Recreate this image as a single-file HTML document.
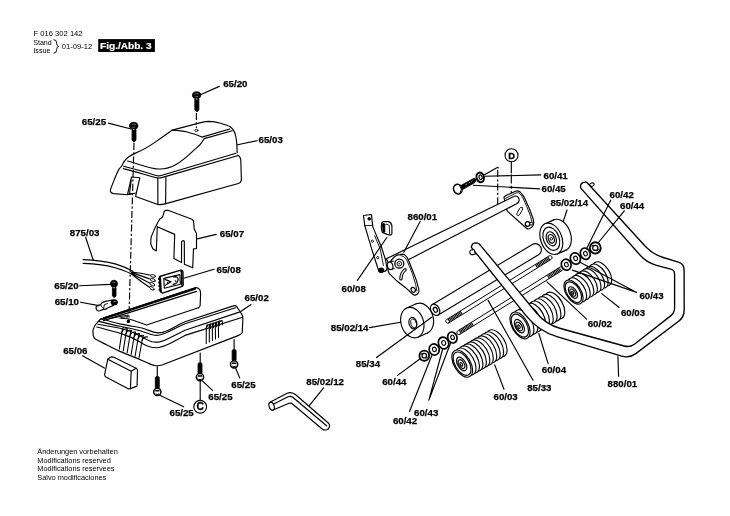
<!DOCTYPE html>
<html><head><meta charset="utf-8">
<style>
html,body{margin:0;padding:0;background:#fff;}
body{width:730px;height:516px;overflow:hidden;position:relative;font-family:"Liberation Sans",sans-serif;}
svg{position:absolute;left:0;top:0;will-change:transform;}
.l{fill:none;stroke:#000;stroke-width:1.15;stroke-linejoin:round;stroke-linecap:round;}
.w{fill:#fff;stroke:#000;stroke-width:1.15;stroke-linejoin:round;stroke-linecap:round;}
.k{fill:#000;stroke:#000;stroke-width:0.8;}
.d{fill:none;stroke:#000;stroke-width:1.15;stroke-dasharray:7 2.2 2.2 2.2;}
.t{font-family:"Liberation Sans",sans-serif;font-weight:bold;font-size:9px;fill:#000;stroke:#000;stroke-width:0.25px;}
.s{font-family:"Liberation Sans",sans-serif;font-size:7px;fill:#000;}
</style></head><body>
<svg width="730" height="516" viewBox="0 0 730 516">
<!-- header -->
<text class="s" x="33.6" y="35.8" style="font-size:7.6px">F 016 302 142</text>
<text class="s" x="33.2" y="45.2" style="font-size:7.1px">Stand</text>
<text class="s" x="33.4" y="52.7" style="font-size:7.1px">Issue</text>
<path class="l" d="M53.8,39.6 Q57,39.8 56.6,43 Q56.4,46 58.6,46.4 Q56.4,46.8 56.6,49.8 Q57,53 53.8,53.2" style="stroke-width:0.9"/>
<text class="s" x="61.8" y="48.9" style="font-size:7.6px">01-09-12</text>
<rect x="98.2" y="39.1" width="56.7" height="12.9" fill="#000"/>
<text class="t" x="100" y="48.7" style="fill:#fff;stroke:#fff;stroke-width:0.2px;font-size:9.4px" textLength="51.6" lengthAdjust="spacingAndGlyphs">Fig./Abb. 3</text>
<!-- footer -->
<text class="s" x="37.3" y="453.8" style="font-size:7.35px">Änderungen vorbehalten</text>
<text class="s" x="37.3" y="462.5" style="font-size:7.35px">Modifications reserved</text>
<text class="s" x="37.3" y="471.4" style="font-size:7.35px">Modifications reservees</text>
<text class="s" x="37.3" y="480.1" style="font-size:7.35px">Salvo modificaciones</text>
<!-- ===== cover 65/03 ===== -->
<g class="l">
<!-- top outline of raised part -->
<path d="M124.1,161.6 C126.5,158 130,155.5 135,153.4 C142,150.3 149,146.5 154.4,142.6 C158.5,139.8 162,137.5 165,135.2 C167.5,133.3 170,131.6 172.2,130.1 L200.8,122.6 C204,121.8 206.5,121.4 208.9,121.4 C213,121.5 217,122.2 220.5,123.2 C224,124.2 227.5,125.3 229.9,126.6 C231.5,127.6 232.6,128.8 233.4,130.1 C234.6,132 235.3,134 235.7,136 C236.3,139 236.6,141.5 236.8,144.1 L237.2,152.5"/>
<!-- flat top panel inner line -->
<path d="M172.2,130.1 C178,130.5 183,131 187,132 C192,133.2 197,134.8 201.9,137.1 L229.9,129"/>
<path d="M204.2,138.6 L232.2,130.8"/>
<!-- S-curve lower edge -->
<path d="M127.6,161 C140,164.5 150,168.5 158,169 C165,169.3 171,167.5 176,164.5 C182,161 187,156.5 191,152.8 C194.5,149.5 197.5,147 199.6,145.2 C201.5,143 203,140.7 204.2,138.8"/>
<!-- ledge lines -->
<path d="M123.5,166.3 C135,169 148,173 156,175.5 C158,176.2 160,176 162,175.3 L236,153.2"/>
<path d="M123.3,168.6 C135,171.5 148,175.5 156.5,177.7 C158.5,178.2 160.5,178 162.5,177.4 L237.5,155.8"/>
<!-- right side lower body -->
<path d="M237.5,155 C239.5,156 240.5,157 240.8,160 L241.4,179.4 C241.4,181.5 240,182.8 238.3,183.5 L166,203.6 C162,204.7 159,204.7 157.8,204.5 L135.7,196.5"/>
<!-- front vertical edges -->
<path d="M157.8,177.8 L157.9,204.5"/>
<path d="M165.9,177.5 L165.6,203.8"/>
<!-- left ear -->
<path d="M124.1,161.6 C123,164 121.5,167 119.4,168.6 C117,172 115,178 110.6,189 C109.8,191.4 111,193.3 113.6,193.6 L127.6,194.8 L132.8,193.6"/>
<!-- tab -->
<path d="M127.6,194.2 L131.5,177 L139.8,177.8 L136.3,193 Z"/>
<path d="M131.2,180.5 L129.5,193.5"/>
<path d="M136.3,193 L135.7,196.5"/>
</g>
<!-- screw 65/25 on cover + dashed -->
<path d="M132,129.5 L136,129.5 L136,140 L134,142.3 L132,140 Z" class="k"/>
<ellipse cx="133.7" cy="125.8" rx="4.2" ry="3.5" class="k"/>
<path d="M131.7,124.6 Q133.7,123.3 135.7,124.6 M132.3,127.2 L135.1,127.2" stroke="#999" stroke-width="0.7" fill="none"/>
<rect x="133.1" y="129.2" width="1.3" height="0.9" fill="#ddd"/>
<path class="d" d="M134,143 L128.8,322"/>
<ellipse cx="128.4" cy="321.3" rx="1.6" ry="1.9" fill="#000"/>
<!-- screw 65/20 top -->
<path d="M194.8,99 L198.9,99 L198.9,109.5 L197,112 L194.8,109.5 Z" class="k"/>
<ellipse cx="196.6" cy="95.2" rx="4.2" ry="3.4" class="k"/>
<path d="M194.6,94 Q196.6,92.7 198.6,94 M195.2,96.6 L198,96.6" stroke="#999" stroke-width="0.7" fill="none"/>
<rect x="196" y="98.6" width="1.3" height="0.9" fill="#ddd"/>
<path class="d" d="M196.4,113 L196.4,128"/>
<ellipse cx="196.4" cy="130.4" rx="1.6" ry="1.1" class="l" style="stroke-width:0.9"/>
<!-- labels -->
<g class="t" style="font-size:9.7px">
<text x="223.2" y="86.6">65/20</text>
<text x="81.8" y="125.4">65/25</text>
<text x="258.6" y="143.4">65/03</text>
</g>
<path class="l" d="M219.3,86.4 L200.4,94.7 M108.4,123.1 L131,129 M257.1,140.7 L237.6,144.8"/>
<!-- ===== 65/07 ===== -->
<g class="l">
<path d="M165.6,210.3 C164.8,210.8 164.3,211.2 164.1,211.8 L162.6,217.1 L159.6,219.3 C158,222 156.5,225 155.1,227.6 L151.3,236.6 C150.8,239 150.7,242 150.9,244.2 L152.8,248.7 L156.3,251 L157.3,226.8 L174.7,234.4 L173.9,258.5 L181.5,262.6 L181.6,241.6 Q182.9,240 184.3,241.2 L184.4,264.2 L192.7,267.8 L193.5,248.7 L196.5,248.7 L196.5,233.6 L194.2,229.1 L193.5,220.8 L192,219.3 L167.9,210.3 Z"/>
</g>
<text class="t" x="219.8" y="236.8" style="font-size:9.7px">65/07</text>
<path class="l" d="M216.1,234.4 L197.3,238.9"/>
<!-- ===== cable 875/03 ===== -->
<g class="l">
<path d="M83.2,259.6 C95,260 106,261.4 116,264.1 C122,265.9 127,267.9 132.8,271.3"/>
<path d="M83.2,263.4 C95,263.8 106,265 116,268 C122,269.8 127,271.5 132.8,274.6"/>
<path d="M132.8,271.6 L132.8,274.3"/>
<path d="M131.5,272 C138,272.5 144,273.5 150.5,275.2 M131.5,272.6 C138,274.5 144,277 150.5,279.2 M131.5,273.3 C137.5,276.5 143.5,280 150,283.2 M131.5,274 C137,278.5 143,283 149.5,287.2"/>
<g style="fill:#fff;stroke:#000;stroke-width:0.9">
<ellipse cx="153" cy="276" rx="2.6" ry="1.3" transform="rotate(12 153 276)"/>
<ellipse cx="152.8" cy="280.1" rx="2.6" ry="1.3" transform="rotate(20 152.8 280.1)"/>
<ellipse cx="152.3" cy="284.2" rx="2.6" ry="1.3" transform="rotate(28 152.3 284.2)"/>
<ellipse cx="151.8" cy="288.3" rx="2.6" ry="1.3" transform="rotate(34 151.8 288.3)"/>
</g>
</g>
<text class="t" x="69.8" y="235.7" style="font-size:9.7px">875/03</text>
<path class="l" d="M85.6,237.2 L93.3,260.3"/>
<!-- ===== 65/08 ===== -->
<path class="w" d="M159.6,276.5 L180.8,270.2 C182,269.9 182.8,270.6 182.9,271.8 L183.2,284.8 C183.2,285.6 182.8,286.1 182.1,286.4 L163.4,292.8 C162,293.2 160.8,292.6 160.6,291.4 L159.5,277.5 Z" style="stroke-width:1.4"/>
<path d="M159.9,276.8 L160.8,292.2" stroke="#000" stroke-width="2.2" fill="none"/>
<path d="M180.2,271 L181.5,270.8 L181.8,285.5" stroke="#000" stroke-width="1.6" fill="none"/>
<g fill="#000"><rect x="158" y="278" width="2" height="1.8"/><rect x="158.2" y="281.6" width="2" height="1.8"/><rect x="158.4" y="285.2" width="2" height="1.8"/><rect x="158.6" y="288.8" width="2" height="1.8"/></g>
<path class="l" d="M163.8,278.4 L179.8,274.6 L180.4,284.3 L164.3,288.2 Z" style="stroke-width:1.1"/>
<path class="l" d="M165,279.4 L171,281.8 L165.3,285.2 M173.6,276.9 C176.8,276.3 178.3,277.6 178,280 C177.7,282.4 175.8,283.8 173.2,284.5" style="stroke-width:1.3"/>
<circle cx="167.6" cy="282.9" r="0.8" fill="#000"/><circle cx="175.6" cy="281" r="0.8" fill="#000"/><circle cx="171" cy="286" r="0.6" fill="#000"/>
<text class="t" x="216.6" y="272.9" style="font-size:9.7px">65/08</text>
<path class="l" d="M214,269.2 L183.8,278.2"/>
<!-- ===== 65/20 lower screw, 65/10 clip ===== -->
<path d="M112.4,287.6 L116,287.6 L116,296 L114.2,297.6 L112.4,296 Z" class="k"/>
<circle cx="114" cy="283.7" r="3.5" class="k"/>
<path d="M112.3,282.7 Q114,281.6 115.7,282.7" stroke="#999" stroke-width="0.7" fill="none"/>
<rect x="113.4" y="287.3" width="1.3" height="0.9" fill="#ddd"/>
<text class="t" x="54.3" y="288.6" style="font-size:9.7px">65/20</text>
<path class="l" d="M79.7,285.8 L110.8,284.4"/>
<path class="w" d="M112,300 L104.5,301.6 C102.5,302 101.2,303.2 100.6,304.6 L97.6,305.6 C96.2,306.2 95.8,307.8 96.3,309.2 C96.9,310.6 98.4,311.2 99.8,310.8 L103.4,309.4 C105,309.6 106.4,309 107.5,308 L113.5,305.4 Z"/>
<path class="l" d="M100.6,304.6 L102.4,307.6 M103.4,309.4 L104.4,304.6 L107.4,303.6" style="stroke-width:0.9"/>
<ellipse cx="114.2" cy="302.3" rx="3.3" ry="2.8" class="k"/>
<ellipse cx="114.6" cy="301.6" rx="1.3" ry="0.7" fill="#888"/>
<text class="t" x="54.7" y="304.6" style="font-size:9.7px">65/10</text>
<path class="l" d="M80.4,302.2 L98.9,305.6"/>
<!-- ===== base 65/02 ===== -->
<g class="l">
<!-- back wall top (thick) -->
<path d="M101,318.8 L195.1,287.8 C197,287.3 199.6,288.5 200.3,291 L200.6,294 L200.1,305.8 C200,306.8 199.3,307.5 198.4,307.8" />
<path d="M104,318.4 L195,288.6" style="stroke-width:2.2"/>
<path d="M103.5,320.6 L196.5,291.4"/>
<!-- wall bottom edge / floor -->
<path d="M198.4,307.8 L146.5,325 C142,323.5 138,321.8 134,320.5 C130,319 126,318.2 121,318.2"/>
<path d="M109.5,318.6 L128.3,315 L126.5,318.5 M119.8,318.1 L126.5,316.5" style="stroke-width:0.9"/>
<!-- rim lines -->
<path d="M101,319.3 C108,320.5 114,322.5 120,323.9 C128,325.5 136,326.8 142,328 C147,329.5 151,331.5 154.5,332.4 C157,333 159.5,333 162.5,332.4 C167,331.2 172,328.5 176,326.2 C179,324.5 182,323 185,321.8 L232.6,306.1 C234.5,305.4 236,305.6 236.8,306.6 L239.9,311.5 L241.6,314"/>
<path d="M99.2,321.4 C106,323 113,325 120,326.3 C128,327.8 135,329.5 141,331 C146,332.6 150,334.3 153.5,335 C155.5,335.4 157.5,335.4 159.5,335 C164,334 169,331.6 174,329 C178,327 181.5,325.3 185,323.8 L235.5,307.8"/>
<path d="M98,324.2 C105,325.6 113,327 120,328.2 C128,330 134,332.5 140,335.8 C144.5,338.5 148.5,340.8 152,341.8 C154.5,342.3 157,342.3 159.5,341.9 C163,341.2 166.5,339.8 170,337.8 L185,330.2 L238.5,312.4"/>
<path d="M96.8,327 C104.5,329 112.5,331.3 120.5,333.4 C127,335.5 134,338.5 140,342 C144,344.5 148,346.5 151.5,347.3 C154,347.8 156.5,347.9 159,347.5 C163,346.8 166.5,345.3 170,343.6 L185,335.4 L242.6,317.2"/>
<!-- outer left + bottom + right -->
<path d="M101,318.8 C99.5,320 98,321.5 97,322.8 C95.5,324.5 94.5,326 94,327.4 C93.2,329 92.9,330.3 92.9,331 L93.3,335.4 C93.6,337 94.2,338.3 95.2,339.1 C99,341.2 103,343 106.5,344.7 C110.5,346.8 114.5,349 118.8,350.9 C125,353.6 131,356 137.3,358.4 C141.5,360.2 145.5,362.2 149.7,363.9 C151.8,364.8 153.8,365.5 155.8,365.7 C158,365.9 160,365.6 162,365 L238,335.6 C240,334.8 241.6,334 242.2,332.8 L242.9,318.5 C242.9,316.5 242.3,315 241.6,314"/>
</g>
<!-- vents left -->
<g class="l" style="stroke-width:1.05">
<path d="M119.30,349.10 L121.90,332.20 Q122.20,329.70 123.30,327.20"/>
<path d="M121.90,332.20 Q123.50,328.00 127.34,328.84"/>
<path d="M123.24,350.88 L125.94,333.84 Q126.24,331.34 127.34,328.84"/>
<path d="M125.94,333.84 Q127.54,329.64 131.38,330.48"/>
<path d="M127.18,352.66 L129.98,335.48 Q130.28,332.98 131.38,330.48"/>
<path d="M129.98,335.48 Q131.58,331.28 135.42,332.12"/>
<path d="M131.12,354.44 L134.02,337.12 Q134.32,334.62 135.42,332.12"/>
<path d="M134.02,337.12 Q135.62,332.92 139.46,333.76"/>
<path d="M135.06,356.22 L138.06,338.76 Q138.36,336.26 139.46,333.76"/>
<path d="M138.06,338.76 Q139.66,334.56 143.50,335.40"/>
<path d="M139.00,358.00 L142.10,340.40 Q142.40,337.90 143.50,335.40"/>
<path d="M142.10,340.40 Q143.70,336.20 147.54,337.04"/>
</g>
<!-- vents right -->
<g class="l" style="stroke-width:1.05">
<path d="M206.20,343.40 L206.30,327.80 Q206.50,325.80 207.20,324.60"/>
<path d="M206.30,327.80 Q207.50,324.20 210.20,324.45 L210.50,328.65"/>
<path d="M209.30,341.95 L209.30,326.85 Q209.50,324.85 210.20,323.65"/>
<path d="M209.30,326.85 Q210.50,323.25 213.20,323.50 L213.50,327.70"/>
<path d="M212.40,340.50 L212.30,325.90 Q212.50,323.90 213.20,322.70"/>
<path d="M212.30,325.90 Q213.50,322.30 216.20,322.55 L216.50,326.75"/>
<path d="M215.50,339.05 L215.30,324.95 Q215.50,322.95 216.20,321.75"/>
<path d="M215.30,324.95 Q216.50,321.35 219.20,321.60 L219.50,325.80"/>
<path d="M218.60,337.60 L218.30,324.00 Q218.50,322.00 219.20,320.80"/>
<path d="M218.30,324.00 Q219.50,320.40 222.20,320.65 L222.50,324.85"/>
</g>
<text class="t" x="244.6" y="301.4" style="font-size:9.7px">65/02</text>
<path class="l" d="M251,304.5 L239.6,312.2"/>
<!-- ===== 65/06 block ===== -->
<g class="l">
<path d="M107.8,359.2 L104.6,374.6 C104.5,375.8 105,376.6 105.9,377.1 L127.7,388.6 C128.6,389 129.6,389 130.4,388.6 L136.3,386.4 C136.8,386.2 137.1,385.7 137.1,385.1 L137.5,370.6 C137.5,369.6 137,368.8 136.2,368.3 L113.4,357.1 C112.4,356.7 111.2,356.7 110.2,357.3 L107.8,359.2 Z"/>
<path d="M107.8,359.2 L131.2,371.3 L136.2,368.3"/>
<path d="M131.2,371.3 L130.4,388.6"/>
</g>
<text class="t" x="63.2" y="353.9" style="font-size:9.7px">65/06</text>
<path class="l" d="M82.5,355.8 L104.4,368.1"/>
<!-- ===== bottom screws ===== -->
<path class="l" d="M157.3,366.5 L157.3,378 M200.2,353 L200.2,364 M234.1,339.5 L234.1,350.5"/>
<rect x="155.3" y="376.5" width="4" height="12" rx="1.5" class="k"/>
<rect x="198" y="362.8" width="4" height="11.5" rx="1.5" class="k"/>
<rect x="232.1" y="349.5" width="4" height="11.5" rx="1.5" class="k"/>
<g style="fill:#fff;stroke:#000;stroke-width:1.5">
<circle cx="157.3" cy="391.9" r="3.6"/>
<circle cx="200" cy="377.1" r="3.6"/>
<circle cx="234.1" cy="364.3" r="3.6"/>
</g>
<g fill="#000">
<path d="M155.2,390 h4.2 v1.5 h-4.2z M155.5,393.2 q1.8,1.4 3.6,0 v1 q-1.8,1.2 -3.6,0z"/>
<path d="M197.9,375.2 h4.2 v1.5 h-4.2z M198.2,378.4 q1.8,1.4 3.6,0 v1 q-1.8,1.2 -3.6,0z"/>
<path d="M232,362.4 h4.2 v1.5 h-4.2z M232.3,365.6 q1.8,1.4 3.6,0 v1 q-1.8,1.2 -3.6,0z"/>
</g>
<path class="l" d="M200.2,381 L200.2,400.2"/>
<circle cx="200.2" cy="406.8" r="6.4" class="l"/>
<text x="200.1" y="410.4" text-anchor="middle" style="font-family:'Liberation Sans',sans-serif;font-size:10.2px;font-weight:bold;stroke:#000;stroke-width:0.35px" fill="#000">C</text>
<g class="t" style="font-size:9.7px">
<text x="169.5" y="416">65/25</text>
<text x="208.3" y="400.4">65/25</text>
<text x="231.3" y="388">65/25</text>
</g>
<path class="l" d="M159.8,395.2 L183.7,406.8 M202.6,381.2 L212.5,390.3 M235.6,368 L239.7,377.9"/>
<!-- ===== allen key 85/02/12 ===== -->
<g class="l">
<path class="w" d="M270.5,402 L287.1,393.3 C289,392.5 291,392.4 292.5,393 C294,393.6 295,394.3 295.7,394.8 L328.6,423.2 C330.5,425.5 329.5,428.8 326.8,429.8 C325,430.3 323.5,429.9 322.5,429.2 L292.8,404.2 C291.8,403.2 290.5,402.8 289,403.3 L272.5,410.2 Z"/>
<path d="M272.8,404.6 L288,396.8 C290,396 291.5,396.3 292.8,397.3 L326.8,426"/>
<ellipse cx="271.6" cy="406.2" rx="2.5" ry="4.1" transform="rotate(-20 271.6 406.2)" class="w"/>
</g>
<text class="t" x="306.3" y="385.3" style="font-size:9.7px">85/02/12</text>
<path class="l" d="M323.6,387.9 L309.3,405.7"/>
<path class="w" d="M503.9,197.1 C505,196 506,195.5 507,195 L515.6,191.2 C517,190.7 519.5,191 520.9,192.8 C522.3,194.5 523.3,195.8 524.1,197.1 L529.4,208.8 L532.6,217.3 C533.4,219.5 533.8,221 533.7,222.6 C533.6,224.2 533.4,225 533.2,225.3 C532.5,226.7 531.5,227.5 530.5,228 C529.7,228.6 529,229 528.4,229 C527.5,229 526.8,228.6 526.2,228 L507.1,210.9 Z"/>
<path class="l" d="M505.5,198.4 L516.1,192.9 C517.5,192.5 519.5,192.8 520.6,194.5 L522.5,197 L526.8,206.6 L530.5,216.2 L532.1,222.6" style="stroke-width:0.9"/>
<path class="l" d="M522.2,207.6 C523,208.5 522.5,210 521.5,211.5 L519.5,214.8 C518.8,215.8 517.5,216 517,215 C516.6,214.2 517,213 517.6,212 L519.7,208.3 C520.3,207.4 521.4,207 522.2,207.6 Z" style="stroke-width:1"/>
<circle cx="527.6" cy="224" r="2.3" fill="#fff" stroke="#000" stroke-width="1.3"/><circle cx="531.3" cy="223.6" r="1.4" fill="#fff" stroke="#000" stroke-width="1"/>
<path class="w" d="M386.3,258.8 L514.2,196.3 C516.3,195.4 518.4,196.6 519,198.8 C519.5,200.8 518.6,202.8 516.6,203.8 L391.5,268.5 Z"/>
<path class="w" d="M392,259.5 C394,256.5 396.8,254.8 399.7,254.6 C401,254.3 402,254.1 402.9,254.1 C404,254.3 405,254.9 405.6,255.7 C407,257.2 408,259 408.8,261 L413.1,271.7 L416.3,280.2 L418.4,287.7 C418.8,289 419,290 418.9,290.9 C418.8,292 418.4,292.9 417.9,293.5 C417.1,294.4 416.2,294.9 415.2,295.1 C414.2,295.2 413.3,294.7 412.5,294 L405.6,287.7 L396,280.2 L389.1,273.3 C388,271.5 387.8,269 388.2,266.5 C388.8,263.8 390,261.5 392,259.5 Z"/>
<path class="l" d="M400.8,255.7 C402.5,256 403.8,256.5 404.5,257.3 C406,259 407,260.5 407.7,262.1 L412,272.7 L415.7,284.5 L416.8,290.9" style="stroke-width:0.9"/>
<circle cx="399.3" cy="263.7" r="4.5" fill="#fff" stroke="#000" stroke-width="1.3"/><circle cx="399.3" cy="263.7" r="2.3" fill="none" stroke="#000" stroke-width="1"/><circle cx="399.3" cy="263.7" r="0.7" fill="#000"/>
<path d="M405.1,269.8 C402.6,271.8 401.1,275 400.9,278.8" fill="none" stroke="#000" stroke-width="3.3" stroke-linecap="round"/><path d="M405.1,269.8 C402.6,271.8 401.1,275 400.9,278.8" fill="none" stroke="#fff" stroke-width="1.2" stroke-linecap="round"/>
<ellipse cx="413.2" cy="289.8" rx="2" ry="2.5" transform="rotate(-30 413.2 289.8)" fill="#fff" stroke="#000" stroke-width="1.2"/>
<path d="M390.2,262.1 L393.6,261 L394.4,268.6 L390.6,269.5 Z" fill="#fff" stroke="none"/>
<path class="l" d="M390.2,262.1 L393.6,261 M390.6,269.5 L394.4,268.6" style="stroke-width:1"/>
<ellipse cx="390.1" cy="265.8" rx="2.7" ry="3.8" transform="rotate(-15 390.1 265.8)" class="w"/>
<path class="w" d="M363.4,215.5 L370.9,214.5 C371.4,214.6 371.6,215 371.6,215.5 L372.2,222.2 L372.9,227 L376.3,235.1 L381.5,247.3 L385.4,259.5 L387,267.7 C387.1,269.5 386,271 384.5,271.5 L380.5,272 C379.5,272 379,271.6 379,271 L377.7,267.7 L371.6,248.7 L364.8,225.6 L364.1,220.2 Z"/>
<path class="l" d="M364.8,225.6 L372.6,225.4 M374.6,235.6 L380.2,248.8 L383.4,265.5" style="stroke-width:0.9"/>
<circle cx="369.3" cy="218.8" r="1.4" class="k"/><circle cx="372.4" cy="241.2" r="1.1" fill="#fff" stroke="#000" stroke-width="0.9"/><circle cx="377.7" cy="257.6" r="1.1" fill="#fff" stroke="#000" stroke-width="0.9"/>
<ellipse cx="381.2" cy="270.3" rx="2.8" ry="2.4" class="k"/>
<path class="w" d="M381.3,227 L381.7,222.9 C382.2,221.9 383,221.6 383.8,221.6 L388.5,221.6 C390.2,222 391.5,223.5 391.9,225.6 L391.9,233.8 C391.6,234.6 390.8,235.1 389.9,235.1 L387.2,234.4 L382.4,232.4 C381.6,231 381.3,229 381.3,227 Z"/>
<path d="M382,223.5 C383.2,222.6 384.6,222.8 385.2,224.2 L385.3,231.8 C384.6,233 383.2,232.8 382.4,231.6 Z" fill="#000"/>
<path class="l" d="M385.8,224.3 C387.5,224 388.8,224.6 389.2,225.8 L389.6,233.5" style="stroke-width:0.9"/>
<circle cx="511.5" cy="155.2" r="6.5" class="l" style="stroke-width:1.1"/>
<text x="511.7" y="158.6" text-anchor="middle" style="font-family:'Liberation Sans',sans-serif;font-size:9.3px;font-weight:bold;stroke:#000;stroke-width:0.3px" fill="#000">D</text>
<path class="l" d="M511.3,161.5 L511.3,173"/>
<path class="d" d="M511.3,174.5 L511.3,193.5" style="stroke-dasharray:9 2.2 3 2.2"/>
<path class="l" d="M484.5,174.7 L497.3,167.4 L498.4,167.8"/>
<path class="d" d="M497.7,170 L497.7,204"/>
<path class="l" d="M484.9,176.3 L540.7,174.9 M473.3,185.2 L539.7,188.9"/>
<path d="M461.3,185.2 L473.5,178.5 C475.3,177.8 476.3,179.5 475.6,181.4 L475,182.4 L462.5,189.6 Z" fill="#000" stroke="#000" stroke-width="0.8"/>
<path d="M465.5,184.8 L467.2,183.8 M468.5,183.2 L470,182.3 M471.2,181.6 L472.6,180.8" stroke="#bbb" stroke-width="0.8"/>
<ellipse cx="457.9" cy="189.1" rx="4.3" ry="4.9" transform="rotate(-20 457.9 189.1)" fill="#fff" stroke="#000" stroke-width="1.5"/>
<path class="l" d="M459.6,185 L461.4,189.2 L460,193" style="stroke-width:1"/>
<ellipse cx="480.2" cy="177.4" rx="3.7" ry="4.9" transform="rotate(-15 480.2 177.4)" fill="#fff" stroke="#000" stroke-width="2"/>
<ellipse cx="480.6" cy="177.4" rx="1.5" ry="2.4" transform="rotate(-15 480.2 177.4)" fill="none" stroke="#000" stroke-width="1.2"/>
<path class="w" d="M448.75,322.90 L551.25,259.30 A2.0,2.0 0 0 0 549.15,255.90 L446.65,319.50 A2.0,2.0 0 0 0 448.75,322.90 Z" style="stroke-width:1"/>
<path d="M448.55,320.67 L462.15,312.24" stroke="#000" stroke-width="3.6" stroke-dasharray="1.1 0.5"/>
<path d="M536.07,266.37 L549.24,258.19" stroke="#000" stroke-width="3.6" stroke-dasharray="1.1 0.5"/>
<path class="w" d="M459.86,334.30 L562.46,270.30 A2.0,2.0 0 0 0 560.34,266.90 L457.74,330.90 A2.0,2.0 0 0 0 459.86,334.30 Z" style="stroke-width:1"/>
<path d="M459.65,332.07 L472.80,323.87" stroke="#000" stroke-width="3.6" stroke-dasharray="1.1 0.5"/>
<path d="M547.89,277.03 L560.62,269.09" stroke="#000" stroke-width="3.6" stroke-dasharray="1.1 0.5"/>
<path class="w" d="M432.01,304.65 L532.35,244.48 A6.0,6.0 0 0 1 538.52,254.77 L438.19,314.95 Z"/>
<ellipse cx="435.10" cy="309.80" rx="4.20" ry="6.00" transform="rotate(-31.0 435.10 309.80)" class="w" />
<ellipse cx="435.40" cy="309.80" rx="1.90" ry="2.60" transform="rotate(-31.0 435.40 309.80)" class="l" style="stroke-width:1.3"/>
<ellipse cx="421.90" cy="318.40" rx="11.20" ry="15.60" transform="rotate(-18.0 421.90 318.40)" class="w" />
<path d="M406.74,308.04 L416.34,303.84 L427.46,332.96 L417.86,337.16 Z" fill="#fff" stroke="none"/>
<path class="l" d="M406.74,308.04 L416.34,303.84 M417.86,337.16 L427.46,332.96"/>
<ellipse cx="412.30" cy="322.60" rx="11.20" ry="15.60" transform="rotate(-18.0 412.30 322.60)" class="w" />
<ellipse cx="412.9" cy="323.1" rx="3.9" ry="5.8" transform="rotate(-15 412.9 323.1)" class="l"/>
<ellipse cx="413.5" cy="323.6" rx="2.8" ry="4.6" transform="rotate(-15 412.9 323.1)" class="l" style="stroke-width:0.8"/>
<ellipse cx="559.90" cy="235.00" rx="10.60" ry="16.30" transform="rotate(-20.7 559.90 235.00)" class="w" />
<path d="M545.19,223.70 L553.79,219.90 L566.01,250.10 L557.41,253.90 Z" fill="#fff" stroke="none"/>
<path class="l" d="M545.19,223.70 L553.79,219.90 M557.41,253.90 L566.01,250.10"/>
<ellipse cx="551.30" cy="238.80" rx="10.60" ry="16.30" transform="rotate(-20.7 551.30 238.80)" class="w" />
<ellipse cx="551.30" cy="238.80" rx="7.84" ry="12.06" transform="rotate(-20.7 551.30 238.80)" class="l" />
<ellipse cx="551.30" cy="238.80" rx="4.77" ry="7.34" transform="rotate(-20.7 551.30 238.80)" class="l" />
<ellipse cx="551.30" cy="238.80" rx="2.86" ry="4.40" transform="rotate(-20.7 551.30 238.80)" class="l" />
<circle cx="551.3" cy="238.8" r="1.3" fill="#fff" stroke="#000" stroke-width="1"/>
<ellipse cx="496.71" cy="343.37" rx="8.20" ry="15.00" transform="rotate(-30.4 496.71 343.37)" class="w" /><ellipse cx="493.26" cy="345.39" rx="8.20" ry="15.00" transform="rotate(-30.4 493.26 345.39)" class="w" /><ellipse cx="489.80" cy="347.41" rx="8.20" ry="15.00" transform="rotate(-30.4 489.80 347.41)" class="w" /><ellipse cx="486.35" cy="349.44" rx="8.20" ry="15.00" transform="rotate(-30.4 486.35 349.44)" class="w" /><ellipse cx="482.90" cy="351.46" rx="8.20" ry="15.00" transform="rotate(-30.4 482.90 351.46)" class="w" /><ellipse cx="479.45" cy="353.48" rx="8.20" ry="15.00" transform="rotate(-30.4 479.45 353.48)" class="w" /><ellipse cx="476.00" cy="355.51" rx="8.20" ry="15.00" transform="rotate(-30.4 476.00 355.51)" class="w" /><ellipse cx="472.55" cy="357.53" rx="8.20" ry="15.00" transform="rotate(-30.4 472.55 357.53)" class="w" /><ellipse cx="469.10" cy="359.55" rx="8.20" ry="15.00" transform="rotate(-30.4 469.10 359.55)" class="w" /><ellipse cx="465.65" cy="361.58" rx="8.20" ry="15.00" transform="rotate(-30.4 465.65 361.58)" class="w" /><ellipse cx="462.20" cy="363.60" rx="8.20" ry="15.00" transform="rotate(-30.4 462.20 363.60)" class="w" />
<ellipse cx="462.06" cy="363.71" rx="7.05" ry="12.90" transform="rotate(-30.4 462.06 363.71)" class="l" />
<ellipse cx="461.70" cy="364.00" rx="4.10" ry="7.50" transform="rotate(-30.4 461.70 364.00)" class="l" />
<ellipse cx="461.52" cy="364.14" rx="2.62" ry="4.80" transform="rotate(-30.4 461.52 364.14)" class="l" />
<ellipse cx="461.33" cy="364.30" rx="1.07" ry="1.95" transform="rotate(-30.4 461.33 364.30)" class="l" />
<ellipse cx="554.76" cy="305.60" rx="8.00" ry="14.70" transform="rotate(-29.7 554.76 305.60)" class="w" /><ellipse cx="550.89" cy="307.80" rx="8.00" ry="14.70" transform="rotate(-29.7 550.89 307.80)" class="w" /><ellipse cx="547.03" cy="310.00" rx="8.00" ry="14.70" transform="rotate(-29.7 547.03 310.00)" class="w" /><ellipse cx="543.17" cy="312.20" rx="8.00" ry="14.70" transform="rotate(-29.7 543.17 312.20)" class="w" /><ellipse cx="539.31" cy="314.40" rx="8.00" ry="14.70" transform="rotate(-29.7 539.31 314.40)" class="w" /><ellipse cx="535.45" cy="316.60" rx="8.00" ry="14.70" transform="rotate(-29.7 535.45 316.60)" class="w" /><ellipse cx="531.59" cy="318.80" rx="8.00" ry="14.70" transform="rotate(-29.7 531.59 318.80)" class="w" /><ellipse cx="527.72" cy="321.00" rx="8.00" ry="14.70" transform="rotate(-29.7 527.72 321.00)" class="w" /><ellipse cx="523.86" cy="323.20" rx="8.00" ry="14.70" transform="rotate(-29.7 523.86 323.20)" class="w" /><ellipse cx="520.00" cy="325.40" rx="8.00" ry="14.70" transform="rotate(-29.7 520.00 325.40)" class="w" />
<ellipse cx="519.83" cy="325.61" rx="6.88" ry="12.64" transform="rotate(-29.7 519.83 325.61)" class="l" />
<ellipse cx="519.40" cy="326.15" rx="4.00" ry="7.35" transform="rotate(-29.7 519.40 326.15)" class="l" />
<ellipse cx="519.18" cy="326.42" rx="2.56" ry="4.70" transform="rotate(-29.7 519.18 326.42)" class="l" />
<ellipse cx="518.96" cy="326.70" rx="1.04" ry="1.91" transform="rotate(-29.7 518.96 326.70)" class="l" />
<ellipse cx="602.16" cy="273.81" rx="7.40" ry="13.50" transform="rotate(-32.5 602.16 273.81)" class="w" /><ellipse cx="598.58" cy="276.10" rx="7.40" ry="13.50" transform="rotate(-32.5 598.58 276.10)" class="w" /><ellipse cx="595.00" cy="278.38" rx="7.40" ry="13.50" transform="rotate(-32.5 595.00 278.38)" class="w" /><ellipse cx="591.41" cy="280.67" rx="7.40" ry="13.50" transform="rotate(-32.5 591.41 280.67)" class="w" /><ellipse cx="587.83" cy="282.95" rx="7.40" ry="13.50" transform="rotate(-32.5 587.83 282.95)" class="w" /><ellipse cx="584.25" cy="285.24" rx="7.40" ry="13.50" transform="rotate(-32.5 584.25 285.24)" class="w" /><ellipse cx="580.67" cy="287.53" rx="7.40" ry="13.50" transform="rotate(-32.5 580.67 287.53)" class="w" /><ellipse cx="577.08" cy="289.81" rx="7.40" ry="13.50" transform="rotate(-32.5 577.08 289.81)" class="w" /><ellipse cx="573.50" cy="292.10" rx="7.40" ry="13.50" transform="rotate(-32.5 573.50 292.10)" class="w" />
<ellipse cx="573.36" cy="292.21" rx="6.36" ry="11.61" transform="rotate(-32.5 573.36 292.21)" class="l" />
<ellipse cx="572.98" cy="292.52" rx="3.55" ry="6.48" transform="rotate(-32.5 572.98 292.52)" class="l" />
<ellipse cx="572.80" cy="292.66" rx="2.22" ry="4.05" transform="rotate(-32.5 572.80 292.66)" class="l" />
<ellipse cx="572.62" cy="292.80" rx="0.89" ry="1.62" transform="rotate(-32.5 572.62 292.80)" class="l" />
<ellipse cx="424.30" cy="355.70" rx="4.84" ry="5.10" fill="#fff" stroke="#000" stroke-width="1.9"/>
<circle cx="424.30" cy="355.70" r="2.29" fill="none" stroke="#000" stroke-width="1.2"/>
<path d="M420.73,354.17 L423.28,353.15 M425.83,358.76 L427.87,356.72" stroke="#000" stroke-width="1"/>
<ellipse cx="434.20" cy="349.50" rx="5.00" ry="5.60" transform="rotate(-20 434.20 349.50)" fill="#fff" stroke="#000" stroke-width="1.7"/>
<ellipse cx="434.40" cy="349.50" rx="1.90" ry="2.24" transform="rotate(-20 434.20 349.50)" fill="#fff" stroke="#000" stroke-width="1.1"/>
<ellipse cx="443.50" cy="343.00" rx="5.10" ry="6.00" transform="rotate(-20 443.50 343.00)" fill="#fff" stroke="#000" stroke-width="1.7"/>
<ellipse cx="443.70" cy="343.00" rx="1.94" ry="2.40" transform="rotate(-20 443.50 343.00)" fill="#fff" stroke="#000" stroke-width="1.1"/>
<ellipse cx="452.40" cy="337.50" rx="4.60" ry="5.60" transform="rotate(-20 452.40 337.50)" fill="#fff" stroke="#000" stroke-width="1.7"/>
<ellipse cx="452.60" cy="337.50" rx="1.75" ry="2.24" transform="rotate(-20 452.40 337.50)" fill="#fff" stroke="#000" stroke-width="1.1"/>
<ellipse cx="566.20" cy="264.70" rx="4.80" ry="5.60" transform="rotate(-20 566.20 264.70)" fill="#fff" stroke="#000" stroke-width="1.7"/>
<ellipse cx="566.40" cy="264.70" rx="1.82" ry="2.24" transform="rotate(-20 566.20 264.70)" fill="#fff" stroke="#000" stroke-width="1.1"/>
<ellipse cx="575.40" cy="258.50" rx="4.90" ry="5.80" transform="rotate(-20 575.40 258.50)" fill="#fff" stroke="#000" stroke-width="1.7"/>
<ellipse cx="575.60" cy="258.50" rx="1.86" ry="2.32" transform="rotate(-20 575.40 258.50)" fill="#fff" stroke="#000" stroke-width="1.1"/>
<ellipse cx="585.30" cy="253.70" rx="4.80" ry="5.80" transform="rotate(-20 585.30 253.70)" fill="#fff" stroke="#000" stroke-width="1.7"/>
<ellipse cx="585.50" cy="253.70" rx="1.82" ry="2.32" transform="rotate(-20 585.30 253.70)" fill="#fff" stroke="#000" stroke-width="1.1"/>
<ellipse cx="595.30" cy="247.90" rx="5.42" ry="5.70" fill="#fff" stroke="#000" stroke-width="1.9"/>
<circle cx="595.30" cy="247.90" r="2.56" fill="none" stroke="#000" stroke-width="1.2"/>
<path d="M591.31,246.19 L594.16,245.05 M597.01,251.32 L599.29,249.04" stroke="#000" stroke-width="1"/>
<path d="M471.40,247.30 L526.01,315.58 Q538.50,331.20 557.66,336.93 L621.74,356.11 Q629.40,358.40 635.79,353.59 L678.61,321.31 Q684.20,317.10 684.19,310.10 L684.11,269.80 Q684.10,263.80 678.36,262.06 L663.23,257.49 Q652.70,254.30 645.27,246.19 L588.60,184.30 C587.5,182.5 586.5,181.8 585.1,182 C583,182.2 581,183.5 580.6,185.5 C580.4,186.5 580.6,187.5 581,188.4 L640.18,255.31 Q646.80,262.80 656.47,265.34 L670.73,269.08 Q674.60,270.10 674.60,274.10 L674.60,307.80 Q674.60,312.80 670.66,315.88 L634.73,343.91 Q630.00,347.60 624.22,346.01 L560.56,328.48 Q546.10,324.50 536.53,312.95 L480.70,245.60 C479.5,243.6 478,242.9 476,242.9 C474,243 472.3,244 471.8,245.5 C471.5,246.2 471.4,246.8 471.4,247.3 Z" fill="#fff" stroke="none"/>
<path class="l" style="stroke-width:1.35" d="M471.40,247.30 L526.01,315.58 Q538.50,331.20 557.66,336.93 L621.74,356.11 Q629.40,358.40 635.79,353.59 L678.61,321.31 Q684.20,317.10 684.19,310.10 L684.11,269.80 Q684.10,263.80 678.36,262.06 L663.23,257.49 Q652.70,254.30 645.27,246.19 L588.60,184.30 C587.5,182.5 586.5,181.8 585.1,182 C583,182.2 581,183.5 580.6,185.5 C580.4,186.5 580.6,187.5 581,188.4 L640.18,255.31 Q646.80,262.80 656.47,265.34 L670.73,269.08 Q674.60,270.10 674.60,274.10 L674.60,307.80 Q674.60,312.80 670.66,315.88 L634.73,343.91 Q630.00,347.60 624.22,346.01 L560.56,328.48 Q546.10,324.50 536.53,312.95 L480.70,245.60 C479.5,243.6 478,242.9 476,242.9 C474,243 472.3,244 471.8,245.5 C471.5,246.2 471.4,246.8 471.4,247.3"/>
<path class="w" d="M472.5,249.8 C470.5,249.6 469.6,251 469.8,252.5 C470,254 471.3,254.9 472.8,254.6 L475.5,254 L474,249.6 Z" style="stroke-width:1.1"/>
<path class="w" d="M589.5,184.6 C590.5,182.8 592.5,182.5 593.8,183.4 C594.6,184.3 594,185.5 592.8,186 L590.8,186.6 Z" style="stroke-width:1.1"/>
<path class="l" d="M420.10,221.60 L403.80,252.30 M357.40,280.40 L386.80,237.50 M369.60,327.60 L400.50,322.20 M376.50,357.50 L432.00,317.00 M397.60,375.40 L420.50,358.50 M409.50,411.50 L431.80,355.50 M428.90,400.10 L442.50,349.50 M428.90,400.10 L450.50,343.20 M538.80,333.50 L548.10,363.70 M488.10,300.40 L510.50,340.00 M510.50,340.00 L533.00,380.20 M494.70,364.90 L504.00,389.30 M617.90,356.50 L618.60,376.20 M547.00,281.90 L586.60,319.20 M601.70,293.60 L619.20,307.50 M572.30,270.10 L636.60,292.40 M580.50,262.60 L636.60,292.40 M610.70,200.20 L586.70,248.50 M624.30,210.90 L598.40,242.50 M567.00,210.00 L563.30,221.20"/>
<g class="t" style="font-size:9.7px"><text x="407.5" y="219.8">860/01</text><text x="341.6" y="291.6">60/08</text><text x="543.5" y="178.6">60/41</text><text x="541.5" y="192.4">60/45</text><text x="550.4" y="206.3">85/02/14</text><text x="609.6" y="198">60/42</text><text x="620" y="208.6">60/44</text><text x="639.4" y="298.5">60/43</text><text x="620.9" y="315.8">60/03</text><text x="587.7" y="327.3">60/02</text><text x="330.8" y="330.8">85/02/14</text><text x="355.8" y="367">85/34</text><text x="382.2" y="385.3">60/44</text><text x="541.8" y="372.5">60/04</text><text x="527.2" y="390.6">85/33</text><text x="607.6" y="387">880/01</text><text x="493.5" y="400">60/03</text><text x="414.1" y="415.5">60/43</text><text x="392.9" y="424.4">60/42</text></g></svg></body></html>
